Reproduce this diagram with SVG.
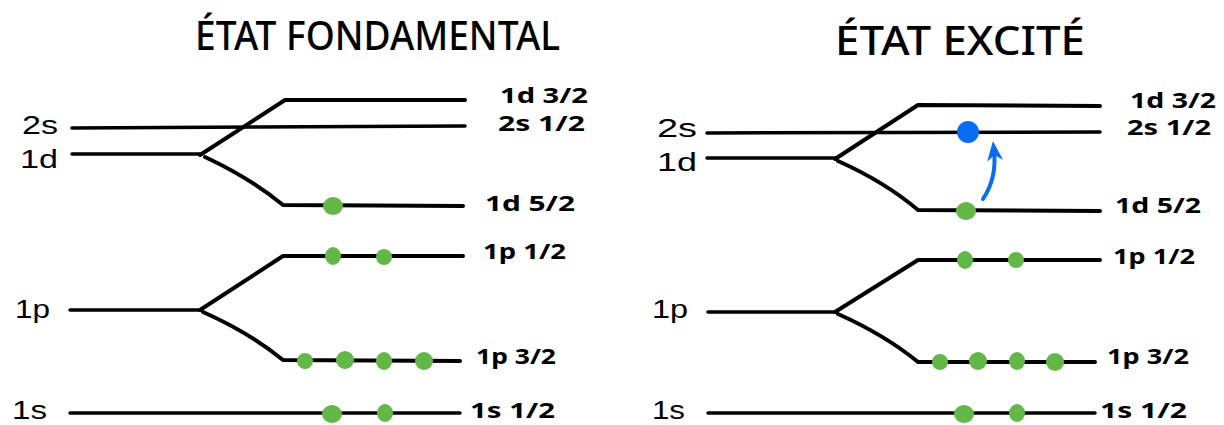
<svg xmlns="http://www.w3.org/2000/svg" width="1224" height="425" viewBox="0 0 1224 425">
<defs>
<style>
.title{font-family:"Noto Sans","Liberation Sans",sans-serif;font-size:40px;font-weight:500;fill:#000}
.lab{font-family:"Liberation Sans",sans-serif;font-size:26px;fill:#000}
.sub{font-family:"Noto Sans","Liberation Sans",sans-serif;font-size:21px;font-weight:700;fill:#000}
.lvl{fill:none;stroke:#000;stroke-width:3.5;stroke-linecap:round;stroke-linejoin:round}
.spl{fill:none;stroke:#000;stroke-width:4;stroke-linecap:round;stroke-linejoin:round}
.e{fill:#62b747}
.ex{fill:#0a6cf0}
</style>
<marker id="ah" viewBox="0 0 10 10" refX="5" refY="5" markerWidth="5" markerHeight="5" orient="auto">
<path d="M0,1 L10,5 L0,9 L3,5 Z" fill="#0a6cf0"/>
</marker>
</defs>
<rect width="1224" height="425" fill="#fff"/>

<g id="title-left"><text class="title" x="195" y="50" textLength="365" lengthAdjust="spacingAndGlyphs">ÉTAT FONDAMENTAL</text></g>
<g id="title-right"><text class="title" x="835" y="55" textLength="250" lengthAdjust="spacingAndGlyphs">ÉTAT EXCITÉ</text></g>

<g id="connectors">
<path class="lvl" d="M72,128 L465,126"/>
<path class="lvl" d="M72,154 L200,154"/>
<path class="spl" d="M200,155 L285,100 L465,100"/>
<path class="spl" d="M205,157 Q250,178 283,205 L463,206"/>
<path class="lvl" d="M70,310 L200,310"/>
<path class="spl" d="M200,310 L283,256 L463,256"/>
<path class="spl" d="M203,312 Q250,333 283,360 L460,361"/>
<path class="lvl" d="M70,413 L460,413"/>
<path class="lvl" d="M707,133 L1100,132"/>
<path class="lvl" d="M707,158 L835,158"/>
<path class="spl" d="M835,159 L918,105 L1100,106"/>
<path class="spl" d="M838,161 Q885,182 918,210 L1100,211"/>
<path class="lvl" d="M708,312 L835,312"/>
<path class="spl" d="M835,312 L918,260 L1100,260"/>
<path class="spl" d="M838,314 Q885,335 918,362 L1095,362"/>
<path class="lvl" d="M708,413 L1095,413"/>
<path d="M983,199 Q997,178 994,151" fill="none" stroke="#0a6cf0" stroke-width="4" stroke-linecap="round" marker-end="url(#ah)"/>
</g>

<g id="left-labels">
<text class="lab" x="22" y="134" textLength="36" lengthAdjust="spacingAndGlyphs">2s</text>
<text class="lab" x="20" y="168" textLength="38" lengthAdjust="spacingAndGlyphs">1d</text>
<text class="lab" x="15" y="318" textLength="35" lengthAdjust="spacingAndGlyphs">1p</text>
<text class="lab" x="12" y="419" textLength="35" lengthAdjust="spacingAndGlyphs">1s</text>
<text class="lab" x="657" y="137" textLength="40" lengthAdjust="spacingAndGlyphs">2s</text>
<text class="lab" x="657" y="171" textLength="40" lengthAdjust="spacingAndGlyphs">1d</text>
<text class="lab" x="652" y="318" textLength="36" lengthAdjust="spacingAndGlyphs">1p</text>
<text class="lab" x="652" y="419" textLength="33" lengthAdjust="spacingAndGlyphs">1s</text>
</g>

<g id="right-labels">
<text class="sub" x="500" y="103" textLength="88" lengthAdjust="spacingAndGlyphs">1d 3/2</text>
<text class="sub" x="498" y="131" textLength="87" lengthAdjust="spacingAndGlyphs">2s 1/2</text>
<text class="sub" x="485" y="211" textLength="90" lengthAdjust="spacingAndGlyphs">1d 5/2</text>
<text class="sub" x="483" y="259" textLength="83" lengthAdjust="spacingAndGlyphs">1p 1/2</text>
<text class="sub" x="476" y="364" textLength="80" lengthAdjust="spacingAndGlyphs">1p 3/2</text>
<text class="sub" x="470" y="418" textLength="85" lengthAdjust="spacingAndGlyphs">1s 1/2</text>
<text class="sub" x="1130" y="108" textLength="86" lengthAdjust="spacingAndGlyphs">1d 3/2</text>
<text class="sub" x="1127" y="135" textLength="84" lengthAdjust="spacingAndGlyphs">2s 1/2</text>
<text class="sub" x="1115" y="213" textLength="86" lengthAdjust="spacingAndGlyphs">1d 5/2</text>
<text class="sub" x="1113" y="264" textLength="82" lengthAdjust="spacingAndGlyphs">1p 1/2</text>
<text class="sub" x="1107" y="364" textLength="82" lengthAdjust="spacingAndGlyphs">1p 3/2</text>
<text class="sub" x="1100" y="418" textLength="87" lengthAdjust="spacingAndGlyphs">1s 1/2</text>
</g>

<g id="electrons-left">
<ellipse class="e" cx="333" cy="206" rx="10" ry="9"/>
<ellipse class="e" cx="333" cy="256" rx="8" ry="9"/>
<ellipse class="e" cx="384" cy="257" rx="8" ry="8"/>
<ellipse class="e" cx="305" cy="361" rx="8" ry="8"/>
<ellipse class="e" cx="345" cy="360" rx="9" ry="9"/>
<ellipse class="e" cx="384" cy="361" rx="8" ry="9"/>
<ellipse class="e" cx="424" cy="361" rx="9" ry="9"/>
<ellipse class="e" cx="332" cy="414" rx="10" ry="9"/>
<ellipse class="e" cx="385" cy="413" rx="8" ry="9"/>
</g>

<g id="electrons-right">
<ellipse class="ex" cx="968" cy="132" rx="11" ry="11"/>
<ellipse class="e" cx="966" cy="211" rx="10" ry="9"/>
<ellipse class="e" cx="965" cy="260" rx="8" ry="9"/>
<ellipse class="e" cx="1016" cy="260" rx="8" ry="8"/>
<ellipse class="e" cx="940" cy="362" rx="8" ry="8"/>
<ellipse class="e" cx="978" cy="361" rx="9" ry="9"/>
<ellipse class="e" cx="1017" cy="361" rx="8" ry="9"/>
<ellipse class="e" cx="1055" cy="362" rx="9" ry="9"/>
<ellipse class="e" cx="964" cy="414" rx="10" ry="9"/>
<ellipse class="e" cx="1017" cy="413" rx="8" ry="9"/>
</g>
</svg>
